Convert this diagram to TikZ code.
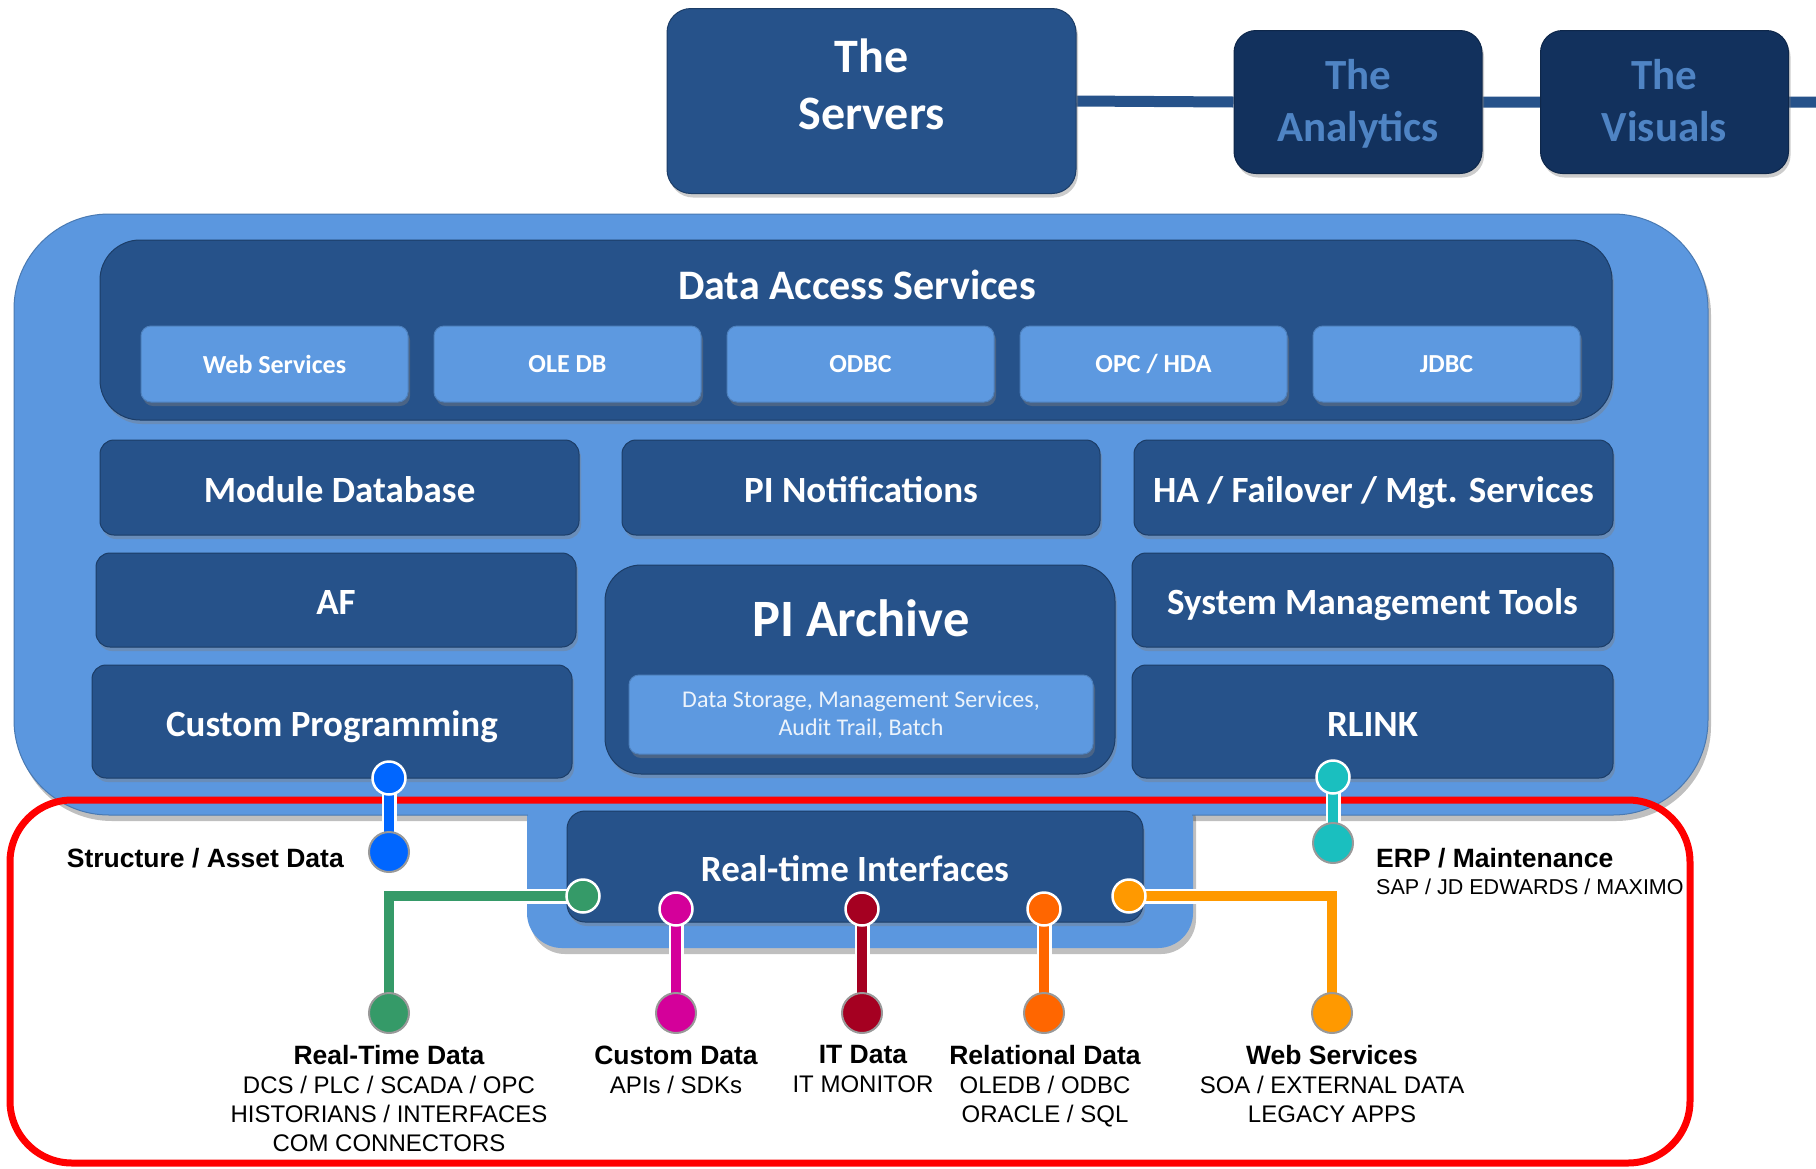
\documentclass[tikz,border=0pt]{standalone}
\usepackage{fontspec}
\setmainfont{Carlito}
\newfontfamily\arialf{Liberation Sans}
\usetikzlibrary{shadows}
\pgfdeclarelayer{back}
\pgfdeclarelayer{fore}
\pgfsetlayers{back,main,fore}
\definecolor{dkblue}{HTML}{26528A}
\definecolor{navyfill}{HTML}{12315D}
\definecolor{navytext}{HTML}{4F84C4}
\definecolor{ltblue}{HTML}{5B97DF}
\definecolor{subblue}{HTML}{5D99E0}
\definecolor{cblue}{HTML}{0066FF}
\definecolor{cteal}{HTML}{1ABFBF}
\definecolor{cgreen}{HTML}{359A68}
\definecolor{cpink}{HTML}{D4009A}
\definecolor{ccrimson}{HTML}{A50021}
\definecolor{corange}{HTML}{FF6600}
\definecolor{camber}{HTML}{FF9900}
\definecolor{frame}{HTML}{FF0000}
\begin{document}
\begin{tikzpicture}[x=1pt,y=-1pt,
  shadowed/.style={drop shadow={shadow xshift=2pt,shadow yshift=-4pt,opacity=0.4}},
  darkbox/.style={shadowed, draw=dkblue!75!black, line width=1pt, fill=dkblue, rounded corners=14pt, text=white, font=\bfseries\fontsize{37}{40}\selectfont, align=center, inner sep=0pt, text height=29pt, text depth=0pt},
  subbox/.style={shadowed, draw=subblue!85!black, line width=1pt, fill=subblue, rounded corners=10pt, text=white, font=\bfseries\fontsize{26}{30}\selectfont, align=center, inner sep=0pt, minimum width=267pt, minimum height=76pt},
  navybox/.style={shadowed, fill=navyfill, draw=navyfill!80!black, line width=1pt, rounded corners=22pt, minimum width=248pt, minimum height=143pt},
  toptext/.style={text=navytext, font=\bfseries\fontsize{43}{52}\selectfont, align=center, inner sep=0pt},
  pinc/.style={circle, draw=white, line width=2.5pt, fill=#1, minimum size=33pt, inner sep=0pt},
  enddot/.style={circle, draw=gray!80, line width=2pt, fill=#1, minimum size=40pt, inner sep=0pt},
  stem/.style={draw=white, line width=2.5pt, double=#1, double distance=10pt},
  lblhead/.style={font=\arialf\bfseries\fontsize{26.5}{30}\selectfont, inner sep=0pt},
  lbl/.style={align=center, inner sep=0pt, font=\arialf\fontsize{24}{29}\selectfont, anchor=north},
]
\useasboundingbox (0,0) rectangle (1816,1168);
\begin{pgfonlayer}{back}
\fill[white] (0,0) rectangle (1816,1168);
\end{pgfonlayer}

% ---------- top row ----------
\node[shadowed, draw=dkblue!75!black, line width=1pt, fill=dkblue, minimum width=409pt, minimum height=185pt, rounded corners=24pt] (servers) at (871.5,101) {};
\node[text=white, font=\bfseries\fontsize{48}{57}\selectfont, align=center, inner sep=0pt] (servlbl) at (871.5,84) {The\\Servers};
\node[navybox] (analytics) at (1358,102) {};
\node[toptext] (analbl) at (1358,104) {The\\Analytics};
\node[navybox] (visuals) at (1664.5,102) {};
\node[toptext] (vislbl) at (1664.5,100.5) {The\\Visuals};
\coordinate (rightend) at (1816,102);
\begin{pgfonlayer}{back}
\draw[dkblue, line width=11pt] (servers.east) -- (analytics.west) (analytics.east) -- (visuals.west) (visuals.east) -- (rightend);
\end{pgfonlayer}

% ---------- main container ----------
\begin{scope}[shift={(3,6)}]
\fill[black, opacity=0.25, rounded corners=35pt] (527,780) rectangle (1193,948);
\fill[black, opacity=0.25, rounded corners=95pt] (14,214) rectangle (1708,815);
\end{scope}
\fill[ltblue, rounded corners=35pt] (527,780) rectangle (1193,948);
\fill[ltblue, rounded corners=95pt] (14,214) rectangle (1708,815);
\draw[ltblue!80!black, line width=1pt, rounded corners=95pt] (14,214) rectangle (1708,815);
\fill[ltblue] (528,790) rectangle (1192,830);

% ---------- Data Access Services ----------
\node[shadowed, draw=dkblue!75!black, line width=1pt, fill=dkblue, minimum width=1512pt, minimum height=180pt, rounded corners=40pt] (das) at (856,330) {};
\node[text=white, font=\bfseries\fontsize{42}{46}\selectfont, inner sep=0pt] (dastitle) at (857,285) {Data Access Services};
\node[subbox] (webs) at (274.5,364) {Web Services};
\node[subbox] (oledb) at (567.5,364) {OLE DB};
\node[subbox] (odbc) at (860.5,364) {ODBC};
\node[subbox] (opc) at (1153.5,364) {OPC / HDA};
\node[subbox] (jdbc) at (1446.5,364) {JDBC};

% ---------- module rows ----------
\node[darkbox, minimum width=479pt, minimum height=95pt] (moddb) at (339.5,487.5) {Module Database};
\node[darkbox, minimum width=478pt, minimum height=95pt] (notif) at (861,487.5) {PI Notifications};
\node[darkbox, minimum width=479pt, minimum height=95pt] (ha) at (1373.5,487.5) {HA / Failover / Mgt. Services};
\node[darkbox, minimum width=480pt, minimum height=94pt] (af) at (336,600) {AF};
\node[darkbox, minimum width=481pt, minimum height=94pt] (sysmgt) at (1372.5,600) {System Management Tools};
\node[darkbox, minimum width=480pt, minimum height=113pt] (custprog) at (332,721.5) {Custom Programming};
\node[darkbox, minimum width=481pt, minimum height=113pt] (rlink) at (1372.5,721.5) {RLINK};

% ---------- PI Archive ----------
\node[shadowed, draw=dkblue!75!black, line width=1pt, fill=dkblue, minimum width=510pt, minimum height=209pt, rounded corners=36pt] (archive) at (860,669.5) {};
\node[text=white, font=\bfseries\fontsize{52.5}{56}\selectfont, inner sep=0pt] (archtitle) at (861,618) {PI Archive};
\node[subbox, minimum width=464pt, minimum height=79pt, text=white!88!subblue, font=\fontsize{24}{28}\selectfont] (archinner) at (861,714.5) {Data Storage, Management Services,\\Audit Trail, Batch};

% ---------- red frame ----------
\draw[frame, line width=7pt, rounded corners=62pt] (10,800) rectangle (1690,1163);

% ---------- Real-time Interfaces ----------
\node[darkbox, minimum width=576pt, minimum height=111pt, rounded corners=18pt] (rti) at (855,866.5) {Real-time Interfaces};

% ---------- pins and end dots ----------
\begin{pgfonlayer}{fore}
\node[pinc=cblue] (bpin) at (389,778) {};
\node[enddot=cblue] (bdot) at (389,852) {};
\node[pinc=cteal] (tpin) at (1333,777) {};
\node[enddot=cteal] (tdot) at (1333,843) {};
\node[pinc=cgreen] (gpin) at (583,896) {};
\node[enddot=cgreen] (gdot) at (389,1013) {};
\node[pinc=cpink] (ppin) at (676,909) {};
\node[enddot=cpink] (pdot) at (676,1013) {};
\node[pinc=ccrimson] (cpin) at (862,909) {};
\node[enddot=ccrimson] (cdot) at (862,1013) {};
\node[pinc=corange] (opin) at (1044,909) {};
\node[enddot=corange] (odot) at (1044,1013) {};
\node[pinc=camber] (apin) at (1129,896) {};
\node[enddot=camber] (adot) at (1332,1013) {};
\end{pgfonlayer}
\draw[stem=cblue] (bpin.center) -- (bdot.center);
\draw[stem=cteal] (tpin.center) -- (tdot.center);
\draw[stem=cgreen] (gpin.center) -| (gdot.center);
\draw[stem=cpink] (ppin.center) -- (pdot.center);
\draw[stem=ccrimson] (cpin.center) -- (cdot.center);
\draw[stem=corange] (opin.center) -- (odot.center);
\draw[stem=camber] (apin.center) -| (adot.center);

% ---------- labels ----------
\node[lblhead, anchor=east] (lstruct) at (344,858) {Structure / Asset Data};
\node[align=left, inner sep=0pt, anchor=north west, font=\arialf\fontsize{21.5}{27}\selectfont] (lerp) at (1376,848) {{\bfseries\fontsize{26.5}{27}\selectfont ERP / Maintenance}\\SAP / JD EDWARDS / MAXIMO};
\node[lbl] (lrtd) at (389,1045.5) {{\bfseries\fontsize{26.5}{29}\selectfont Real-Time Data}\\DCS / PLC / SCADA / OPC\\HISTORIANS / INTERFACES\\COM CONNECTORS};
\node[lbl] (lcust) at (676,1045.5) {{\bfseries\fontsize{26.5}{29}\selectfont Custom Data}\\APIs / SDKs};
\node[lbl] (lit) at (863,1045.5) {{\bfseries\fontsize{26.5}{29}\selectfont IT Data}\\IT MONITOR};
\node[lbl] (lrel) at (1045,1045.5) {{\bfseries\fontsize{26.5}{29}\selectfont Relational Data}\\OLEDB / ODBC\\ORACLE / SQL};
\node[lbl] (lweb) at (1332,1045.5) {{\bfseries\fontsize{26.5}{29}\selectfont Web Services}\\SOA / EXTERNAL DATA\\LEGACY APPS};
\end{tikzpicture}
\end{document}
